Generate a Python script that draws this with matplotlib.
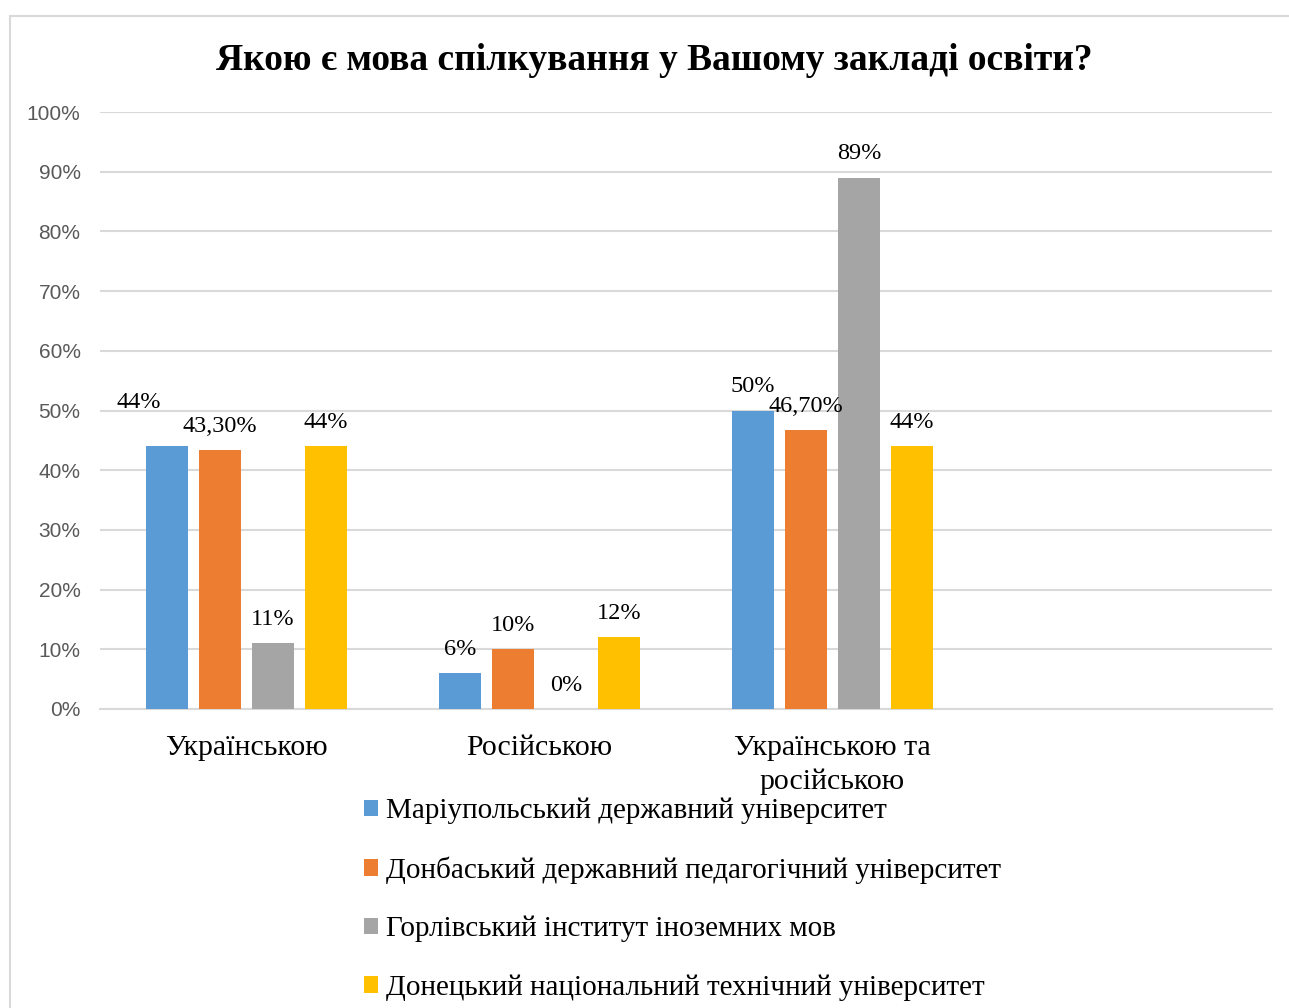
import matplotlib
matplotlib.use("Agg")
import matplotlib.pyplot as plt
from matplotlib.patches import Rectangle
import numpy as np

# chart data
categories = ["Українською", "Російською", "Українською та\nросійською", ""]
series_names = [
    "Маріупольський державний університет",
    "Донбаський державний педагогічний університет",
    "Горлівський інститут іноземних мов",
    "Донецький національний технічний університет",
]
mariupol = [0.44, 0.06, 0.50, np.nan]
donbas = [0.433, 0.10, 0.467, np.nan]
horlivka = [0.11, 0.00, 0.89, np.nan]
donetsk = [0.44, 0.12, 0.44, np.nan]
value_labels = [
    ["44%", "6%", "50%", ""],
    ["43,30%", "10%", "46,70%", ""],
    ["11%", "0%", "89%", ""],
    ["44%", "12%", "44%", ""],
]
yticks = [0, 0.1, 0.2, 0.3, 0.4, 0.5, 0.6, 0.7, 0.8, 0.9, 1.0]
ytick_labels = ["0%", "10%", "20%", "30%", "40%", "50%", "60%", "70%", "80%", "90%", "100%"]

colors = ["#5b9bd5", "#ed7d31", "#a5a5a5", "#ffc000"]
serif = "Liberation Serif"

W, H = 1289, 1008
fig = plt.figure(figsize=(W / 100, H / 100), dpi=100)

# chart frame
fig.patches.append(Rectangle((10 / W, -0.05), 1.2, 1 - 16 / H + 0.05,
                             transform=fig.transFigure, fill=False,
                             edgecolor="#d9d9d9", linewidth=1.5))

ax = fig.add_axes([100 / W, 1 - 709 / H, (1272 - 100) / W, (709 - 112) / H])

all_series = [mariupol, donbas, horlivka, donetsk]
x = np.arange(len(categories))
bw = 0.143
step = 0.181
for i, vals in enumerate(all_series):
    pos = x + (i - 1.5) * step
    ax.bar(pos, vals, width=bw, color=colors[i], label=series_names[i], zorder=3)
    for j, v in enumerate(vals):
        if np.isnan(v):
            continue
        dx, dy = 0, 0
        # label moved by hand in the original
        if i == 0 and j == 0:
            dx, dy = -0.095, 0.033
        ax.text(pos[j] + dx, v + 0.040 + dy, value_labels[i][j], ha="center", va="center",
                fontsize=17.5, family=serif, color="#000000", zorder=4)

ax.set_xlim(-0.5, 3.5)
ax.set_ylim(0, 1)
ax.set_yticks(yticks)
ax.set_yticklabels(ytick_labels, family="Liberation Sans", fontsize=15, color="#595959")
ax.set_xticks(x)
ax.set_xticklabels(categories, family=serif, fontsize=21.5, linespacing=1.35)
ax.tick_params(axis="both", length=0)
ax.tick_params(axis="y", pad=14)
ax.tick_params(axis="x", pad=19)
ax.grid(axis="y", color="#d9d9d9", linewidth=1.5, zorder=0)
for s in ["top", "right", "left"]:
    ax.spines[s].set_visible(False)
ax.spines["bottom"].set_color("#d9d9d9")
ax.spines["bottom"].set_linewidth(1.5)

fig.text(654 / W, 1 - 61 / H, "Якою є мова спілкування у Вашому закладі освіти?",
         ha="center", va="center", fontsize=27, fontweight="bold", family=serif)

fig.legend(loc="upper left", bbox_to_anchor=(352 / W, 1 - 786 / H), frameon=False,
           prop={"family": serif, "size": 21}, handlelength=0.5, handleheight=0.5,
           handletextpad=0.25, labelspacing=1.1, borderaxespad=0)

fig.savefig("out.png", dpi=100)
